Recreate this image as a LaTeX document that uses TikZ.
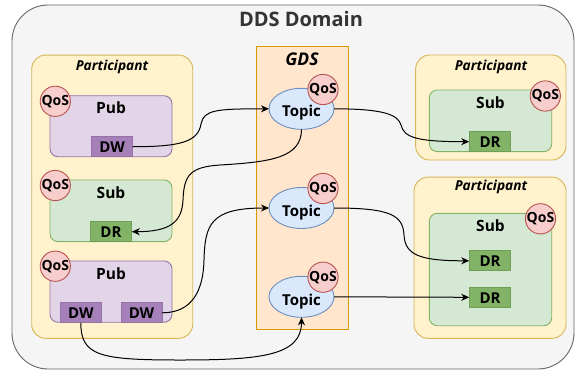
\documentclass[tikz,border=0pt]{standalone}
\usepackage{fontspec}
\setmainfont{Open Sans}
\usetikzlibrary{arrows.meta,shapes.geometric}

\definecolor{domfill}{HTML}{F5F5F5}
\definecolor{domline}{HTML}{666666}
\definecolor{domtext}{HTML}{333333}
\definecolor{partfill}{HTML}{FFF2CC}
\definecolor{partline}{HTML}{D6B656}
\definecolor{pubfill}{HTML}{E1D5E7}
\definecolor{publine}{HTML}{9673A6}
\definecolor{dwfill}{HTML}{A680B8}
\definecolor{subfill}{HTML}{D5E8D4}
\definecolor{subline}{HTML}{82B366}
\definecolor{drfill}{HTML}{82B366}
\definecolor{drline}{HTML}{6C9E55}
\definecolor{gdsfill}{HTML}{FFE6CC}
\definecolor{gdsline}{HTML}{D79B00}
\definecolor{topicfill}{HTML}{DAE8FC}
\definecolor{topicline}{HTML}{6C8EBF}
\definecolor{qosfill}{HTML}{F8CECC}
\definecolor{qosline}{HTML}{B85450}

\tikzset{
  box/.style={rectangle, inner sep=0pt, outer sep=0pt, line width=0.9pt},
  domainbox/.style={box, fill=domfill, draw=domline, rounded corners=36pt},
  participant/.style={box, fill=partfill, draw=partline, rounded corners=14pt},
  pubbox/.style={box, fill=pubfill, draw=publine, rounded corners=8pt},
  subbox/.style={box, fill=subfill, draw=subline, rounded corners=8pt},
  dwbox/.style={box, fill=dwfill, draw=publine, minimum width=41, minimum height=20},
  drbox/.style={box, fill=drfill, draw=drline, minimum width=41.5, minimum height=20},
  gdsbox/.style={box, fill=gdsfill, draw=gdsline},
  topic/.style={ellipse, inner sep=0pt, outer sep=0pt, line width=0.9pt, fill=topicfill, draw=topicline, minimum width=65, minimum height=41},
  qos/.style={circle, inner sep=0pt, outer sep=0pt, line width=0.9pt, fill=qosfill, draw=qosline, minimum size=30,
    font=\fontsize{14}{16}\selectfont\bfseries},
  txt/.style={anchor=base, inner sep=0pt},
  boxtitle/.style={txt, font=\fontsize{15.5}{17}\selectfont\bfseries},
  parttitle/.style={txt, font=\fontsize{13.7}{15}\selectfont\bfseries\itshape},
  smalltxt/.style={txt, font=\fontsize{15}{16}\selectfont\bfseries},
  link/.style={line width=1pt, black, -{Stealth[length=8pt,width=7pt,inset=2.5pt]}},
}

\begin{document}
\begin{tikzpicture}[x=1pt, y=-1pt]
\useasboundingbox (0,0) rectangle (575,370);

% outer DDS domain
\node[domainbox, minimum width=562, minimum height=364] (domain) at (293,187) {};
\node[txt, text=domtext, font=\fontsize{20}{22}\selectfont\bfseries] (domaintitle) at (301,26.5) {DDS Domain};

% left participant
\node[participant, minimum width=161, minimum height=283.3] (lpart) at (112.2,196.7) {};
\node[parttitle] (lparttitle) at (112,70.5) {Participant};

% publisher 1
\node[pubbox, minimum width=122, minimum height=61] (pubA) at (111,126.2) {};
\node[boxtitle] (pubAtitle) at (111,113) {Pub};
\node[dwbox] (dwA) at (112.2,146.7) {};
\node[smalltxt] (dwAtxt) at (112.2,152.5) {DW};
\node[qos] (qosPubA) at (55.3,101.3) {QoS};

% subscriber 1
\node[subbox, minimum width=122, minimum height=61.7] (subA) at (111,210.8) {};
\node[boxtitle] (subAtitle) at (111,198.3) {Sub};
\node[drbox] (drA) at (111,231.7) {};
\node[smalltxt] (drAtxt) at (111,237.3) {DR};
\node[qos] (qosSubA) at (55.3,185.5) {QoS};

% publisher 2
\node[pubbox, minimum width=122, minimum height=61.3] (pubB) at (111,291.6) {};
\node[boxtitle] (pubBtitle) at (111,279.3) {Pub};
\node[dwbox] (dwB) at (80.8,312.8) {};
\node[smalltxt] (dwBtxt) at (80.8,318.3) {DW};
\node[dwbox] (dwC) at (141.5,312.8) {};
\node[smalltxt] (dwCtxt) at (141.5,318.3) {DW};
\node[qos] (qosPubB) at (55.3,266.2) {QoS};

% GDS column with topics
\node[gdsbox, minimum width=91.6, minimum height=282.3] (gds) at (302.5,187.8) {};
\node[txt, font=\fontsize{17.5}{19}\selectfont\bfseries\itshape] (gdstitle) at (302,65) {GDS};

\node[topic] (topicA) at (301.5,108.8) {};
\node[smalltxt] (topicAtxt) at (301.5,116.7) {Topic};
\node[qos] (qosTopicA) at (323,89.5) {QoS};

\node[topic] (topicB) at (301.5,208) {};
\node[smalltxt] (topicBtxt) at (301.5,216.2) {Topic};
\node[qos] (qosTopicB) at (323,188.5) {QoS};

\node[topic] (topicC) at (301.5,296.8) {};
\node[smalltxt] (topicCtxt) at (301.5,305) {Topic};
\node[qos] (qosTopicC) at (323,277.2) {QoS};

% right participant 1
\node[participant, minimum width=150.3, minimum height=105] (rpartA) at (490.8,107.5) {};
\node[parttitle] (rpartAtitle) at (491,70.5) {Participant};
\node[subbox, minimum width=122.4, minimum height=61.7] (subB) at (490.5,120.8) {};
\node[boxtitle] (subBtitle) at (490.5,108.3) {Sub};
\node[drbox] (drB) at (490,141.7) {};
\node[smalltxt] (drBtxt) at (490,147.5) {DR};
\node[qos] (qosSubB) at (545.3,96) {QoS};

% right participant 2
\node[participant, minimum width=152, minimum height=161.3] (rpartB) at (490,257.7) {};
\node[parttitle] (rpartBtitle) at (491,190.5) {Participant};
\node[subbox, minimum width=122.4, minimum height=112.4] (subC) at (490.5,269.5) {};
\node[boxtitle] (subCtitle) at (490.5,231.7) {Sub};
\node[drbox] (drC) at (490,260.8) {};
\node[smalltxt] (drCtxt) at (490,266.8) {DR};
\node[drbox] (drD) at (490,297.3) {};
\node[smalltxt] (drDtxt) at (490,303.3) {DR};
\node[qos] (qosSubC) at (540.5,218.8) {QoS};

% data flows
\draw[link] (dwA.east) .. controls (180,146.7) and (198,142) .. (201,124)
  .. controls (204,110) and (215,108.8) .. (topicA.west);
\draw[link] (topicA.south) .. controls (301.5,158) and (270,162) .. (220,165)
  .. controls (190,167) and (184,175) .. (183,200)
  .. controls (182,222) and (170,231.7) .. (drA.east);
\draw[link] (dwC.east) .. controls (185,312.8) and (203,300) .. (204,260)
  .. controls (205,225) and (210,208) .. (topicB.west);
\draw[link] (dwB.south) .. controls (80.8,356) and (100,360) .. (180,360)
  .. controls (260,360) and (301.5,356) .. (topicC.south);
\draw[link] (topicA.east) .. controls (385,108.8) and (398,115) .. (401,125)
  .. controls (404,137) and (415,141.7) .. (drB.west);
\draw[link] (topicB.east) .. controls (390,208) and (403,215) .. (404,235)
  .. controls (405,255) and (420,260.8) .. (drC.west);
\draw[link] (topicC.east) -- (drD.west);
\end{tikzpicture}
\end{document}
